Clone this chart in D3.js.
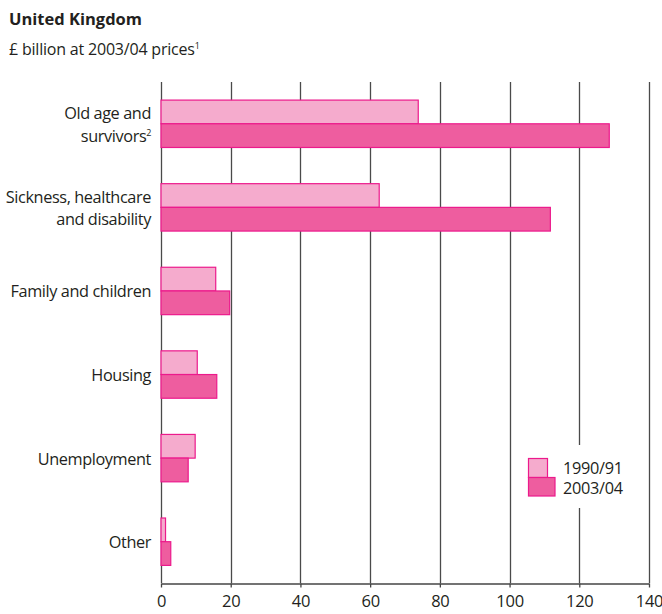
<!DOCTYPE html>
<html>
<head>
<meta charset="utf-8">
<script src="https://cdn.jsdelivr.net/npm/d3@7"></script>
<style>
  html, body { margin: 0; padding: 0; background: #fff; }
  svg { display: block; }
  text { font-family: "Open Sans", "Noto Sans", sans-serif; fill: #231f20; }
</style>
</head>
<body>
<div id="chart"></div>
<script>
// Social protection expenditure by function, United Kingdom
const categories = [
  ["Old age and", "survivors", "2"],
  ["Sickness, healthcare", "and disability"],
  ["Family and children"],
  ["Housing"],
  ["Unemployment"],
  ["Other"]
];
const seriesNames = ["1990/91", "2003/04"];
const values1990 = [73.8, 62.6, 15.7, 10.4, 9.8, 1.3];
const values2003 = [128.6, 111.7, 19.7, 16.0, 7.8, 2.8];
const xTicks = [0, 20, 40, 60, 80, 100, 120, 140];

const W = 662, H = 614;
const fills = ["#f5abcd", "#ee5d9f"];
const strokeCol = "#ec1a8c";

const svg = d3.select("#chart").append("svg")
  .attr("width", W).attr("height", H);

const x = d3.scaleLinear().domain([0, 140]).range([161, 649]);
const y = d3.scaleBand().domain(d3.range(categories.length))
  .range([82, 583.5]).paddingInner(0.433).paddingOuter(0.2165);
const ySub = d3.scaleBand().domain([0, 1]).range([0, y.bandwidth()]);

// Titles
svg.append("text").attr("x", 9).attr("y", 25)
  .style("font-weight", "700").style("font-size", "16.5px")
  .text("United Kingdom");
const sub = svg.append("text").attr("x", 9).attr("y", 55).style("font-size", "16px")
  .style("letter-spacing", "-0.2px");
sub.append("tspan").text("£ billion at 2003/04 prices");
sub.append("tspan").attr("dy", -6).style("font-size", "9px").text("1");

// Vertical gridlines
svg.append("g").selectAll("line").data(xTicks).join("line")
  .attr("x1", d => Math.round(x(d)) + 0.5).attr("x2", d => Math.round(x(d)) + 0.5)
  .attr("y1", 82).attr("y2", 583)
  .attr("stroke", "#4a4a4a").attr("stroke-width", 1.3);

// Bars
const series = [values1990, values2003];
const groups = svg.append("g").selectAll("g").data(categories).join("g")
  .attr("transform", (d, i) => `translate(0,${y(i)})`);
series.forEach((vals, s) => {
  groups.append("rect")
    .attr("x", x(0))
    .attr("y", ySub(s))
    .attr("width", (d, i) => x(vals[i]) - x(0))
    .attr("height", ySub.bandwidth())
    .attr("fill", fills[s])
    .attr("stroke", strokeCol).attr("stroke-width", 1.2);
});

// Category labels (one or two lines, optional superscript note)
categories.forEach((lines, i) => {
  const c = y(i) + y.bandwidth() / 2;
  const textLines = lines.filter((l, k) => k !== 2);
  const base = c + 6.5 - (textLines.length > 1 ? 11.3 : 0);
  textLines.forEach((ln, k) => {
    const t = svg.append("text")
      .attr("x", 151).attr("y", base + k * 22.6)
      .attr("text-anchor", "end").style("font-size", "16.3px")
      .style("letter-spacing", "-0.4px");
    t.append("tspan").text(ln);
    if (k === textLines.length - 1 && lines[2]) {
      t.append("tspan").attr("dy", -6).style("font-size", "9px").text(lines[2]);
    }
  });
});

// X axis
const axis = d3.axisBottom(x).tickValues(xTicks).tickSize(4).tickSizeOuter(0).tickPadding(8);
const ax = svg.append("g").attr("transform", "translate(0,583.5)").call(axis);
ax.select(".domain").attr("stroke", "#444").attr("stroke-width", 1.5);
ax.selectAll(".tick line").attr("stroke", "#444").attr("stroke-width", 1.3);
ax.selectAll(".tick text").style("font-size", "16.5px").attr("fill", "#231f20")
  .style("letter-spacing", "-0.3px")
  .style("font-family", "'Open Sans', 'Noto Sans', sans-serif");

// Legend
const lg = svg.append("g");
lg.append("rect").attr("x", 513).attr("y", 445).attr("width", 132).attr("height", 63).attr("fill", "#fff");
lg.append("rect").attr("x", 528.5).attr("y", 458.5).attr("width", 19).attr("height", 19)
  .attr("fill", fills[0]).attr("stroke", strokeCol).attr("stroke-width", 1.2);
lg.append("rect").attr("x", 528.5).attr("y", 477.5).attr("width", 26.5).attr("height", 18.5)
  .attr("fill", fills[1]).attr("stroke", strokeCol).attr("stroke-width", 1.2);
seriesNames.forEach((n, i) => {
  lg.append("text").attr("x", 563).attr("y", 474 + i * 20).style("font-size", "16.3px")
    .style("letter-spacing", "-0.3px").text(n);
});
</script>
</body>
</html>
